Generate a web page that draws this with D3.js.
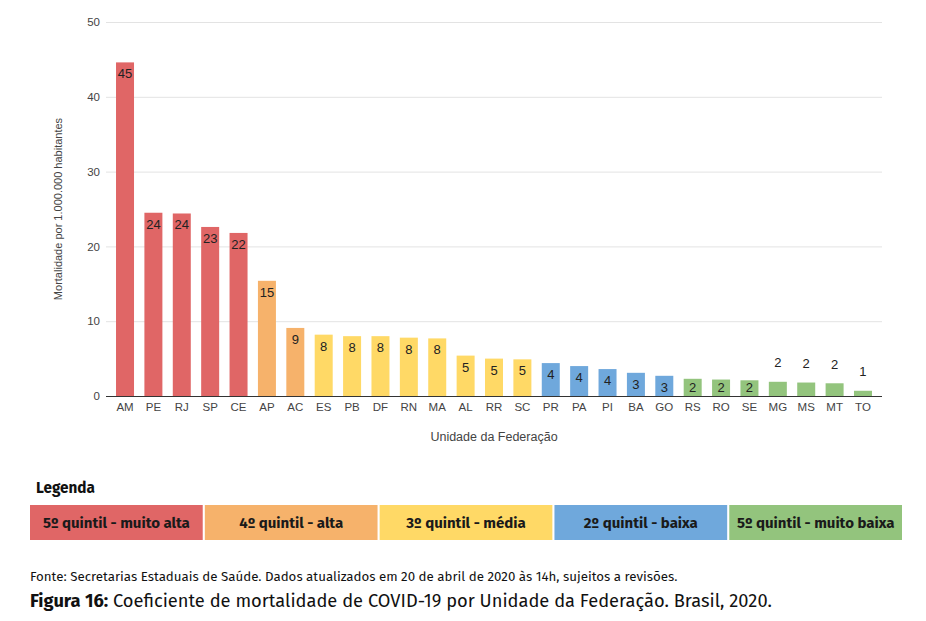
<!DOCTYPE html>
<html>
<head>
<meta charset="utf-8">
<script src="https://cdn.jsdelivr.net/npm/d3@7"></script>
<style>
  body { margin: 0; background: #fff; }
  svg { display: block; }
</style>
</head>
<body>
<div id="chart"></div>
<script>
// dados
const states = ["AM","PE","RJ","SP","CE","AP","AC","ES","PB","DF","RN","MA","AL","RR","SC","PR","PA","PI","BA","GO","RS","RO","SE","MG","MS","MT","TO"];
const values = [44.6,24.5,24.4,22.6,21.8,15.4,9.1,8.2,8.0,8.0,7.8,7.7,5.4,5.0,4.9,4.4,4.0,3.6,3.1,2.7,2.3,2.2,2.1,1.9,1.8,1.7,0.7];
const labels = ["45","24","24","23","22","15","9","8","8","8","8","8","5","5","5","4","4","4","3","3","2","2","2","2","2","2","1"];
const quintil = [5,5,5,5,5,4,4,3,3,3,3,3,3,3,3,2,2,2,2,2,1,1,1,1,1,1,1];
const yTicks = [0,10,20,30,40,50];
const legendLabels = ["5º quintil - muito alta","4º quintil - alta","3º quintil - média","2º quintil - baixa","5º quintil - muito baixa"];
const legendQuintil = [5,4,3,2,1];

const colors = {5:"#e06666", 4:"#f6b26b", 3:"#ffd966", 2:"#6fa8dc", 1:"#93c47d"};

const W = 926, H = 621;
const mLeft = 106, mRight = 882, mTop = 22, mBottom = 396;

let svg = d3.select("#chart").append("svg")
  .attr("width", W).attr("height", H);

let x = d3.scaleBand()
  .domain(states)
  .range([mLeft, mRight])
  .paddingInner(0.366)
  .paddingOuter(0.353);

let y = d3.scaleLinear()
  .domain([0, 50])
  .range([mBottom, mTop]);

// grade + eixo y
let yAxis = svg.append("g")
  .attr("transform", "translate(" + mLeft + ",0)")
  .call(d3.axisLeft(y).tickValues(yTicks).tickSize(-(mRight-mLeft)).tickPadding(6));
yAxis.select(".domain").remove();
yAxis.selectAll(".tick line").attr("stroke", "#e3e3e3");
yAxis.selectAll(".tick text")
  .style("font-family", "Liberation Sans, Arial, sans-serif")
  .style("font-size", "11.5px")
  .attr("fill", "#444");

// barras
svg.append("g").selectAll("rect")
  .data(states)
  .join("rect")
  .attr("x", d => x(d))
  .attr("y", (d,i) => y(values[i]))
  .attr("width", x.bandwidth())
  .attr("height", (d,i) => mBottom - y(values[i]))
  .attr("fill", (d,i) => colors[quintil[i]]);

// rótulos
svg.append("g").selectAll("text")
  .data(states)
  .join("text")
  .attr("x", d => x(d) + x.bandwidth()/2)
  .attr("y", (d,i) => {
    let t = y(values[i]);
    if (mBottom - t > 15) return Math.min(t + 16, mBottom - 4);
    return t - 14.5;
  })
  .attr("text-anchor", "middle")
  .style("font-family", "Liberation Sans, Arial, sans-serif")
  .style("font-size", "13px")
  .attr("fill", "#222")
  .text((d,i) => labels[i]);

// eixo x
let xAxis = svg.append("g")
  .attr("transform", "translate(0," + mBottom + ")")
  .call(d3.axisBottom(x).tickSize(0).tickPadding(7));
xAxis.select(".domain").attr("stroke", "#333").attr("d", "M" + mLeft + ",0.5H" + mRight);
xAxis.selectAll(".tick text")
  .style("font-family", "Liberation Sans, Arial, sans-serif")
  .style("font-size", "11.5px")
  .attr("fill", "#444");

svg.append("text")
  .attr("x", (mLeft+mRight)/2)
  .attr("y", 441)
  .attr("text-anchor", "middle")
  .style("font-family", "Liberation Sans, Arial, sans-serif")
  .style("font-size", "12.5px")
  .attr("fill", "#444")
  .text("Unidade da Federação");

svg.append("text")
  .attr("transform", "translate(62," + (mTop+mBottom)/2 + ") rotate(-90)")
  .attr("text-anchor", "middle")
  .style("font-family", "Liberation Sans, Arial, sans-serif")
  .style("font-size", "11px")
  .attr("fill", "#444")
  .text("Mortalidade por 1.000.000 habitantes");

// legenda
let legendFont = "Fira Sans, Open Sans, sans-serif";
svg.append("text")
  .attr("x", 36).attr("y", 493)
  .style("font-family", legendFont)
  .style("font-size", "15.3px")
  .style("font-weight", "bold")
  .attr("fill", "#111")
  .text("Legenda");

let lx = d3.scaleBand()
  .domain(legendLabels)
  .range([30, 902])
  .paddingInner(0.012);

let legend = svg.append("g");
legendLabels.forEach((lab, i) => {
  legend.append("rect")
    .attr("x", lx(lab))
    .attr("y", 505)
    .attr("width", lx.bandwidth())
    .attr("height", 35)
    .attr("fill", colors[legendQuintil[i]]);
  legend.append("text")
    .attr("x", lx(lab) + lx.bandwidth()/2)
    .attr("y", 528)
    .attr("text-anchor", "middle")
    .style("font-family", legendFont)
    .style("font-size", "15px")
    .style("font-weight", "bold")
    .attr("fill", "#1a1a1a")
    .text(lab);
});

// fonte e título
svg.append("text")
  .attr("x", 30).attr("y", 581)
  .style("font-family", legendFont)
  .style("font-size", "13.3px")
  .attr("fill", "#111")
  .text("Fonte: Secretarias Estaduais de Saúde. Dados atualizados em 20 de abril de 2020 às 14h, sujeitos a revisões.");

let cap = svg.append("text")
  .attr("x", 30).attr("y", 607)
  .style("font-family", legendFont)
  .style("font-size", "18.3px")
  .attr("fill", "#111");
cap.append("tspan").style("font-weight", "bold").text("Figura 16:");
cap.append("tspan").text(" Coeficiente de mortalidade de COVID-19 por Unidade da Federação. Brasil, 2020.");
</script>
</body>
</html>
